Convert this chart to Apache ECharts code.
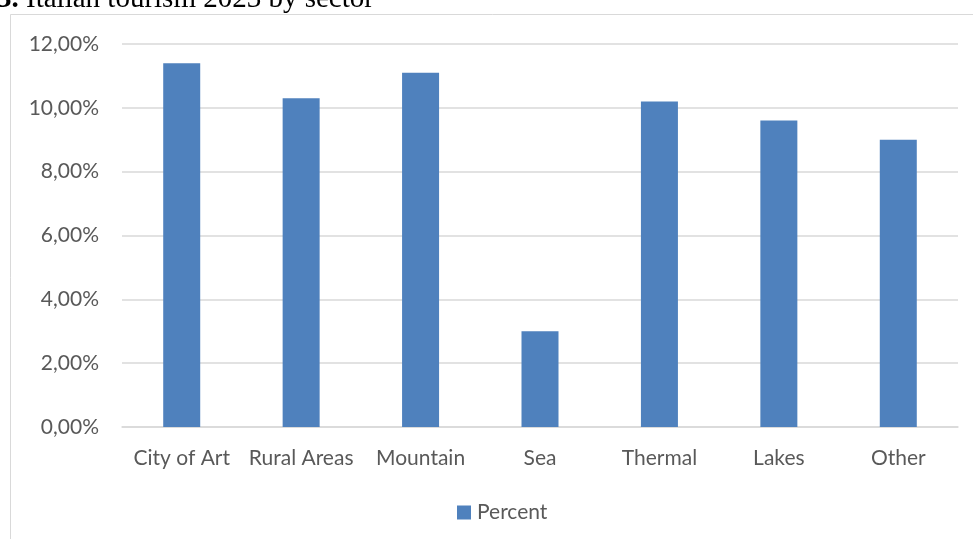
<!DOCTYPE html>
<html>
<head>
<meta charset="utf-8">
<script src="https://cdn.jsdelivr.net/npm/echarts@6/dist/echarts.min.js"></script>
<style>
html,body{margin:0;padding:0;background:#fff;}
#c{width:973px;height:539px;}
</style>
</head>
<body>
<div id="c"></div>
<script>
const categories = ['City of Art', 'Rural Areas', 'Mountain', 'Sea', 'Thermal', 'Lakes', 'Other'];
const percentValues = [11.4, 10.3, 11.1, 3.0, 10.2, 9.6, 9.0];
const seriesName = 'Percent';
const titleText = 'Italian tourism 2023 by sector';
const titleNumber = '3.';

const chart = echarts.init(document.getElementById('c'));
const FONT = 'Lato';
chart.setOption({
  animation: false,
  backgroundColor: '#fff',
  title: {
    text: '{b|' + titleNumber + '} ' + titleText,
    left: -3,
    top: -15,
    padding: 0,
    textStyle: {
      fontFamily: 'Liberation Serif',
      fontSize: 29,
      fontWeight: 'normal',
      color: '#000',
      rich: {
        b: { fontFamily: 'Liberation Serif', fontSize: 29, fontWeight: 'bold', color: '#000' }
      }
    }
  },
  graphic: [{
    type: 'rect',
    shape: { x: 10.5, y: 14.5, width: 1000, height: 600 },
    style: { fill: 'none', stroke: '#d9d9d9', lineWidth: 1 },
    silent: true,
    z: -1
  }],
  legend: {
    data: [seriesName],
    left: 452,
    top: 497,
    itemWidth: 14,
    itemHeight: 14,
    itemGap: 6,
    icon: 'rect',
    textStyle: { fontFamily: FONT, fontSize: 21, color: '#595959', padding: [0, 0, 0, 1] }
  },
  grid: { left: 122, right: 15, top: 44, bottom: 112, containLabel: false },
  xAxis: {
    type: 'category',
    data: categories,
    axisLine: { lineStyle: { color: '#d9d9d9', width: 1.5 } },
    axisTick: { show: false },
    axisLabel: { fontFamily: FONT, fontSize: 21, color: '#595959', margin: 21, interval: 0 }
  },
  yAxis: {
    type: 'value',
    min: 0,
    max: 12,
    interval: 2,
    axisLine: { show: false },
    axisTick: { show: false },
    splitLine: { lineStyle: { color: '#d9d9d9', width: 1.5 } },
    axisLabel: {
      fontFamily: FONT, fontSize: 21, color: '#595959', margin: 23,
      formatter: v => v.toFixed(2).replace('.', ',') + '%'
    }
  },
  series: [{
    name: seriesName,
    type: 'bar',
    data: percentValues,
    barWidth: 37,
    itemStyle: { color: '#4f81bd' }
  }]
});
</script>
</body>
</html>
